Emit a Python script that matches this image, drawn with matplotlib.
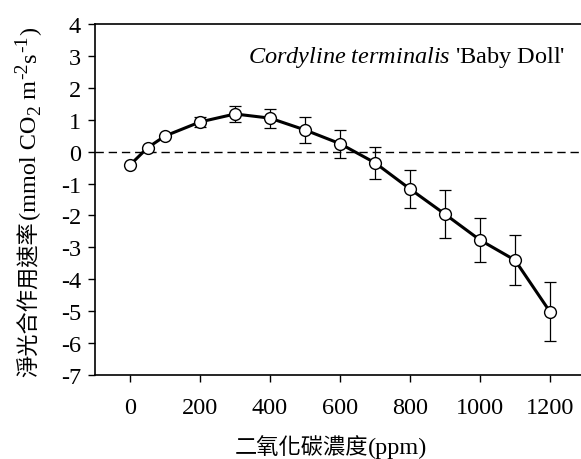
import matplotlib
matplotlib.use("Agg")
import matplotlib.pyplot as plt

co2 = [0, 50, 100, 200, 300, 400, 500, 600, 700, 800, 900, 1000, 1100, 1200]
rate = [-0.42, 0.12, 0.49, 0.93, 1.18, 1.05, 0.68, 0.25, -0.35, -1.17, -1.96, -2.77, -3.40, -5.02]
err = [0.0, 0.0, 0.0, 0.15, 0.24, 0.30, 0.41, 0.44, 0.51, 0.60, 0.76, 0.70, 0.78, 0.92]
xticks = [0, 200, 400, 600, 800, 1000, 1200]
yticks = [4, 3, 2, 1, 0, -1, -2, -3, -4, -5, -6, -7]

serif = "Liberation Serif"
cjk = "Noto Sans CJK TC"
plt.rcParams['mathtext.fontset'] = 'custom'
plt.rcParams['mathtext.rm'] = serif
plt.rcParams['mathtext.it'] = serif + ':italic'

W, H = 581, 460
fig = plt.figure(figsize=(W/100, H/100), dpi=100)
ax = fig.add_axes([95/W, (H-376)/H, 490/W, (376-25)/H])

ax.axhline(0, color='black', lw=1.0, ls=(0, (6, 3.5)), zorder=1)
ax.errorbar(co2, rate, yerr=err, fmt='none', ecolor='black', elinewidth=0.9,
            capsize=4, capthick=0.9, zorder=2)
ax.plot(co2, rate, color='black', lw=2.2, marker='o', ms=8.5, mfc='white',
        mec='black', mew=1.0, zorder=3)

ax.set_xlim(-100, 1300)
ax.set_ylim(-7, 4)
ax.set_xticks(xticks)
ax.set_yticks(yticks)
ax.set_xticklabels([str(v) for v in xticks], fontfamily=serif, fontsize=17.5)
ax.set_yticklabels([str(v) for v in yticks], fontfamily=serif, fontsize=17.5)
ax.tick_params(direction='out', length=5, width=1, pad=5)
ax.tick_params(axis='x', pad=11)
ax.spines['right'].set_visible(False)
for s in ['left', 'top', 'bottom']:
    ax.spines[s].set_linewidth(1.2)

fig.text(565/W, (H-58)/H, r"$\it{Cordyline\ terminalis}$ 'Baby Doll'",
         ha='right', va='center', fontfamily=serif, fontsize=17.5)

# y label: Chinese part
anchor_y = H - 221
fig.text(29/W, anchor_y/H, "淨光合作用速率", rotation=90, rotation_mode='anchor',
         ha='right', va='center', fontfamily=cjk, fontsize=16)

# y label: unit part built from pieces (base, superscripts, subscript)
renderer = fig.canvas.get_renderer()
def text_width(s, size):
    t = fig.text(0, 0, s, fontsize=size, fontfamily=serif)
    w = t.get_window_extent(renderer).width
    t.remove()
    return w

base_size, script_size = 17.5, 14
baseline_x = 36
pieces = [("(mmol CO", base_size, 0, 0), ("2", script_size, 4, 0.5),
          (" m", base_size, 0, 0), ("-2", script_size, -9, 0.5),
          ("s", base_size, 0, 0), ("-1", script_size, -9, 0.5),
          (")", base_size, 0, 0.5)]
y = anchor_y + 1
for s, size, shift, gap in pieces:
    y += gap
    fig.text((baseline_x + shift)/W, y/H, s, rotation=90, rotation_mode='anchor',
             ha='left', va='baseline', fontfamily=serif, fontsize=size)
    y += text_width(s, size) + gap

# x label
fig.text(368/W, (H-448)/H, "二氧化碳濃度", ha='right', va='center',
         fontfamily=cjk, fontsize=16)
fig.text(368/W, (H-448)/H, "(ppm)", ha='left', va='center',
         fontfamily=serif, fontsize=17.5)

fig.savefig("out.png", dpi=100)
